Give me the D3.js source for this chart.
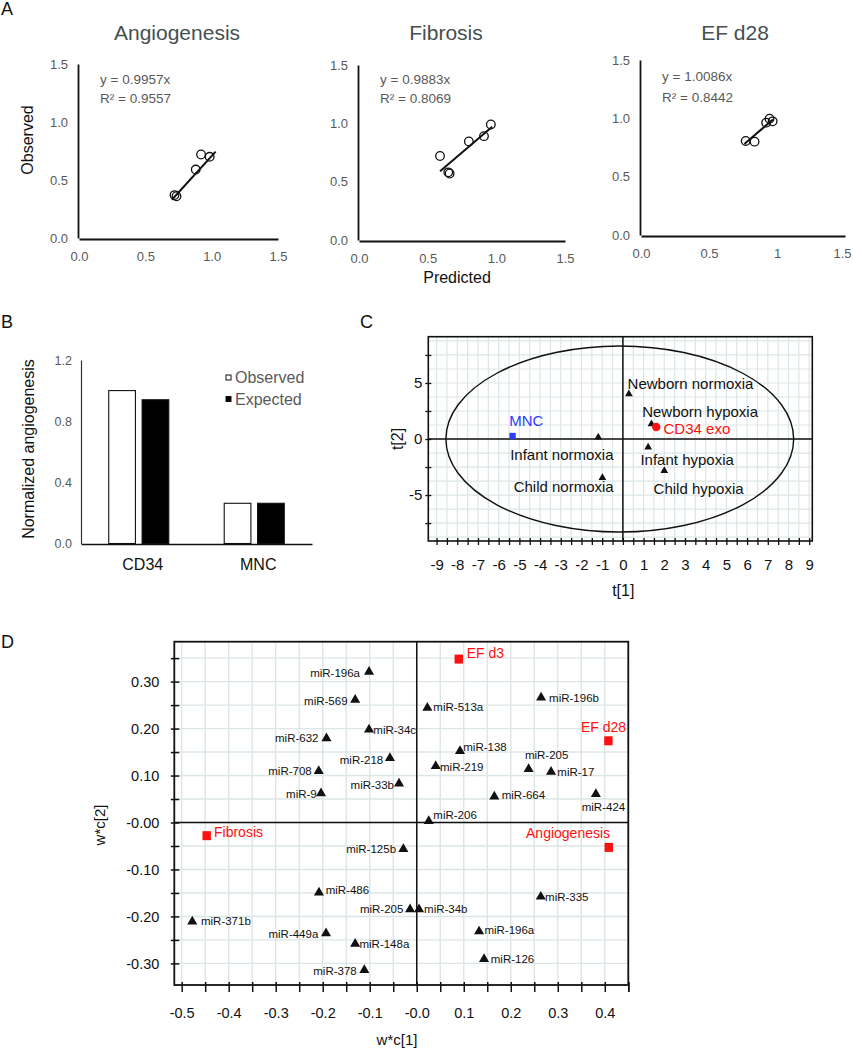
<!DOCTYPE html>
<html><head><meta charset="utf-8">
<script src="https://cdn.jsdelivr.net/npm/d3@7"></script>
<style>
body{margin:0;background:#fff;}
svg{display:block;font-family:"Liberation Sans",Arial,sans-serif;}
</style></head><body>
<svg id="fig" width="853" height="1050"></svg>
<script>
// ================= DATA =================
// Panel A
const aTitles = ["Angiogenesis", "Fibrosis", "EF d28"];
const aEquations = ["y = 0.9957x", "y = 0.9883x", "y = 1.0086x"];
const aR2 = ["R\u00B2 = 0.9557", "R\u00B2 = 0.8069", "R\u00B2 = 0.8442"];
const aTickValues = [0, 0.5, 1.0, 1.5];
const aYTickLabels = ["0.0", "0.5", "1.0", "1.5"];
const aXTickLabels = [["0.0", "0.5", "1.0", "1.5"], ["0.0", "0.5", "1.0", "1.5"], ["0.0", "0.5", "1", "1.5"]];
const angioPredicted = [0.72, 0.735, 0.88, 0.92, 0.985];
const angioObserved  = [0.37, 0.36, 0.59, 0.72, 0.70];
const angioFitX = [0.70, 1.03];
const angioFitY = [0.33, 0.745];
const fibPredicted = [0.59, 0.65, 0.66, 0.80, 0.91, 0.96];
const fibObserved  = [0.72, 0.58, 0.57, 0.845, 0.89, 0.99];
const fibFitX = [0.59, 0.97];
const fibFitY = [0.59, 0.97];
const efPredicted = [0.77, 0.835, 0.92, 0.945, 0.968];
const efObserved  = [0.806, 0.80, 0.963, 0.997, 0.974];
const efFitX = [0.76, 0.97];
const efFitY = [0.78, 0.99];

// Panel B
const bCategories = ["CD34", "MNC"];
const bSeries = ["Observed", "Expected"];
const bObserved = [1.0, 0.263];
const bExpected = [0.94, 0.263];
const bTicks = [0, 0.4, 0.8, 1.2];

// Panel C
const cNames = ["MNC", "Infant normoxia", "Child normoxia", "Newborn normoxia", "Newborn hypoxia", "CD34 exo", "Infant hypoxia", "Child hypoxia"];
const cT1 = [-5.33, -1.19, -0.99, 0.29, 1.38, 1.61, 1.22, 2.0];
const cT2 = [0.27, 0.15, -3.45, 4.02, 1.34, 1.07, -0.74, -2.83];
const cKind = ["mnc", "sample", "sample", "sample", "sample", "exo", "sample", "sample"];
const cXTickLabels = ["-9","-8","-7","-6","-5","-4","-3","-2","-1","0","1","2","3","4","5","6","7","8","9"];
const cYTickLabels = ["-5", "0", "5"];
const cEllipse = {cx: -0.15, cy: 0, rx: 8.4, ry: 8.3};

// Panel D
const dNames = ["miR-196a","miR-569","miR-34c","miR-632","miR-218","miR-708","miR-33b","miR-9",
  "miR-513a","miR-196b","miR-138","miR-219","miR-205","miR-17","miR-664","miR-424","miR-206",
  "miR-125b","miR-486","miR-205","miR-34b","miR-371b","miR-449a","miR-148a","miR-378",
  "miR-335","miR-196a","miR-126"];
const dX = [-0.1015,-0.131,-0.1015,-0.192,-0.057,-0.2085,-0.0377,-0.2036,
  0.0226,0.2645,0.092,0.0404,0.238,0.2857,0.165,0.381,0.0255,
  -0.0285,-0.208,-0.0142,0.0049,-0.4775,-0.193,-0.131,-0.1115,
  0.2638,0.1326,0.1432];
const dY = [0.321,0.261,0.198,0.179,0.137,0.1096,0.083,0.062,
  0.244,0.266,0.152,0.12,0.114,0.108,0.055,0.0606,0.003,
  -0.0564,-0.149,-0.185,-0.185,-0.211,-0.236,-0.2585,-0.314,
  -0.158,-0.232,-0.291];
const dOutcomes = ["EF d3", "EF d28", "Fibrosis", "Angiogenesis"];
const dOutX = [0.0894, 0.4077, -0.4468, 0.4085];
const dOutY = [0.348, 0.174, -0.028, -0.053];
const dXTickLabels = ["-0.5","-0.4","-0.3","-0.2","-0.1","-0.0","0.1","0.2","0.3","0.4"];
const dYTickLabels = ["-0.30","-0.20","-0.10","-0.00","0.10","0.20","0.30"];

// ================= DRAWING =================
const svg = d3.select("#fig");
const GRID = "#dde6e6";
const GRAYTXT = "#595959";

// panel letters
[["A",1,15],["B",1,328],["C",360,328],["D",1,648]].forEach(([t,x,y]) =>
  svg.append("text").attr("x",x).attr("y",y).attr("font-size",18).attr("fill","#111").text(t));

// ---------- Panel A ----------
const aLayout = [
  {x0:79, x1:278, y0:238, y1:64, titleX:177, eqY:[84,103]},
  {x0:359, x1:565, y0:240, y1:65, titleX:446, eqY:[84,103]},
  {x0:641, x1:845, y0:235, y1:60, titleX:735, eqY:[81,101.5]}
];
const aData = [
  {px:angioPredicted, ob:angioObserved, fx:angioFitX, fy:angioFitY},
  {px:fibPredicted, ob:fibObserved, fx:fibFitX, fy:fibFitY},
  {px:efPredicted, ob:efObserved, fx:efFitX, fy:efFitY}
];
aLayout.forEach((L, i) => {
  const x = d3.scaleLinear().domain([0, 1.5]).range([L.x0, L.x1]);
  const y = d3.scaleLinear().domain([0, 1.5]).range([L.y0, L.y1]);
  const g = svg.append("g");
  const xa = g.append("g").attr("transform", `translate(0,${L.y0 + 1})`)
    .call(d3.axisBottom(x).tickValues(aTickValues).tickFormat((d, j) => aXTickLabels[i][j]).tickSize(0).tickSizeOuter(0).tickPadding(13));
  const ya = g.append("g").attr("transform", `translate(${L.x0 - 1},0)`)
    .call(d3.axisLeft(y).tickValues(aTickValues).tickFormat((d, j) => aYTickLabels[j]).tickSize(0).tickSizeOuter(0).tickPadding(10));
  [xa, ya].forEach(a => {
    a.select(".domain").attr("stroke", "#111").attr("stroke-width", 1.8);
    a.selectAll("text").attr("font-size", 13).attr("fill", GRAYTXT).attr("font-family", "Liberation Sans, Arial, sans-serif");
  });
  if (i === 2) xa.selectAll(".tick text").filter((d) => d === 1.5).attr("dx", -3);
  g.append("text").attr("x", L.titleX).attr("y", 40).attr("text-anchor", "middle")
    .attr("font-size", 21).attr("fill", "#455050").text(aTitles[i]);
  g.append("text").attr("x", L.x0 + 21).attr("y", L.eqY[0]).attr("font-size", 13.5).attr("fill", GRAYTXT).text(aEquations[i]);
  g.append("text").attr("x", L.x0 + 21).attr("y", L.eqY[1]).attr("font-size", 13.5).attr("fill", GRAYTXT).text(aR2[i]);
  const D = aData[i];
  g.selectAll("circle.pt").data(D.px).join("circle")
    .attr("cx", d => x(d)).attr("cy", (d, k) => y(D.ob[k])).attr("r", 4.3)
    .attr("fill", "none").attr("stroke", "#111").attr("stroke-width", 1.3);
  g.append("line").attr("x1", x(D.fx[0])).attr("y1", y(D.fy[0])).attr("x2", x(D.fx[1])).attr("y2", y(D.fy[1]))
    .attr("stroke", "#111").attr("stroke-width", 2);
});
svg.append("text").attr("transform", "translate(33,140) rotate(-90)").attr("text-anchor", "middle")
  .attr("font-size", 16).attr("fill", "#111").text("Observed");
svg.append("text").attr("x", 457).attr("y", 283).attr("text-anchor", "middle")
  .attr("font-size", 16).attr("fill", "#111").text("Predicted");

// ---------- Panel B ----------
{
  const bx = d3.scaleBand().domain(bCategories).range([81, 312]).paddingInner(0.48).paddingOuter(0.24);
  const bs = d3.scaleBand().domain(bSeries).range([0, bx.bandwidth()]).paddingInner(0.2);
  const by = d3.scaleLinear().domain([0, 1.2]).range([543.5, 360]);
  const g = svg.append("g");
  const vals = {Observed: bObserved, Expected: bExpected};
  const fills = {Observed: "#fff", Expected: "#000"};
  bCategories.forEach((c, i) => {
    bSeries.forEach(s => {
      g.append("rect").attr("x", bx(c) + bs(s)).attr("y", by(vals[s][i]))
        .attr("width", bs.bandwidth()).attr("height", by(0) - by(vals[s][i]))
        .attr("fill", fills[s]).attr("stroke", "#111").attr("stroke-width", 1.1);
    });
  });
  const ya = g.append("g").attr("transform", "translate(81,0)")
    .call(d3.axisLeft(by).tickValues(bTicks).tickFormat(d3.format(".1f")).tickSize(0).tickSizeOuter(0).tickPadding(9));
  ya.select(".domain").attr("stroke", "#333").attr("stroke-width", 1.2);
  ya.selectAll("text").attr("font-size", 12.5).attr("fill", GRAYTXT);
  const xa = g.append("g").attr("transform", "translate(0,544)")
    .call(d3.axisBottom(bx).tickSize(0).tickSizeOuter(0).tickPadding(15));
  xa.select(".domain").attr("stroke", "#111").attr("stroke-width", 1.5);
  xa.selectAll("text").attr("font-size", 16).attr("fill", "#111").attr("dx", 4);
  bSeries.forEach((s, i) => {
    g.append("rect").attr("x", 226).attr("y", 375 + i * 21.5).attr("width", 5).attr("height", 5)
      .attr("fill", fills[s]).attr("stroke", "#111").attr("stroke-width", 1);
    g.append("text").attr("x", 235).attr("y", 377.7 + i * 21.5).attr("dominant-baseline", "central")
      .attr("font-size", 16).attr("fill", GRAYTXT).text(s);
  });
  svg.append("text").attr("transform", "translate(34,449) rotate(-90)").attr("text-anchor", "middle")
    .attr("font-size", 16).attr("fill", "#111").text("Normalized angiogenesis");
}

// ---------- Panel C ----------
{
  const cx = d3.scaleLinear().domain([-9.4, 9.15]).range([428.3, 812.3]);
  const cy = d3.scaleLinear().domain([-9.1, 9.13]).range([541, 336.7]);
  const g = svg.append("g");
  const [xl, xr] = cx.range(), [yb, yt] = cy.range();
  g.selectAll("line.vg").data(d3.range(-18, 19).map(k => k * 0.5)).join("line")
    .attr("x1", d => cx(d)).attr("x2", d => cx(d)).attr("y1", yt).attr("y2", yb)
    .attr("stroke", GRID).attr("stroke-width", 1.2);
  g.selectAll("line.hg").data(d3.range(-7, 8).map(k => k * 1.25)).join("line")
    .attr("y1", d => cy(d)).attr("y2", d => cy(d)).attr("x1", xl).attr("x2", xr)
    .attr("stroke", GRID).attr("stroke-width", 1.2);
  g.append("rect").attr("x", xl).attr("y", yt).attr("width", xr - xl).attr("height", yb - yt)
    .attr("fill", "none").attr("stroke", "#111").attr("stroke-width", 1.6);
  g.append("line").attr("x1", cx(0)).attr("x2", cx(0)).attr("y1", yt).attr("y2", yb).attr("stroke", "#111").attr("stroke-width", 1.5);
  g.append("line").attr("y1", cy(0)).attr("y2", cy(0)).attr("x1", xl).attr("x2", xr).attr("stroke", "#111").attr("stroke-width", 1.5);
  g.append("ellipse").attr("cx", cx(cEllipse.cx)).attr("cy", cy(cEllipse.cy))
    .attr("rx", cx(cEllipse.cx + cEllipse.rx) - cx(cEllipse.cx)).attr("ry", cy(0) - cy(cEllipse.ry))
    .attr("fill", "none").attr("stroke", "#111").attr("stroke-width", 1.4);
  // axes
  const xTickVals = d3.range(-18, 19).map(k => k * 0.5);
  const xa = g.append("g").attr("transform", `translate(0,${yb - 3})`)
    .call(d3.axisBottom(cx).tickValues(xTickVals)
      .tickFormat(d => Number.isInteger(d) ? cXTickLabels[d + 9] : "").tickSize(7).tickPadding(14));
  xa.select(".domain").remove();
  xa.selectAll("line").attr("stroke", "#111").attr("stroke-width", 1.3);
  xa.selectAll("text").attr("font-size", 15).attr("fill", "#111");
  const yTickVals = [-7.5, -5, -2.5, 0, 2.5, 5, 7.5];
  const ya = g.append("g").attr("transform", `translate(${xl + 3},0)`)
    .call(d3.axisLeft(cy).tickValues(yTickVals)
      .tickFormat(d => (d % 5 === 0) ? cYTickLabels[d / 5 + 1] : "").tickSize(6).tickPadding(3));
  ya.select(".domain").remove();
  ya.selectAll("line").attr("stroke", "#111").attr("stroke-width", 1.3);
  ya.selectAll("text").attr("font-size", 15).attr("fill", "#111");
  g.append("text").attr("x", 623.3).attr("y", 596).attr("text-anchor", "middle").attr("font-size", 16).attr("fill", "#111").text("t[1]");
  g.append("text").attr("transform", "translate(403,439) rotate(-90)").attr("text-anchor", "middle").attr("font-size", 16).attr("fill", "#111").text("t[2]");
  // points
  const cLabelLayout = [
    {a:"start", dx:-3.4, dy:-15.3}, {a:"end", dx:15.3, dy:16.7}, {a:"end", dx:11.3, dy:9},
    {a:"start", dx:-1.3, dy:-10.7}, {a:"start", dx:-9.3, dy:-12.3}, {a:"start", dx:7.3, dy:1.7},
    {a:"start", dx:-7.7, dy:12}, {a:"start", dx:-10.7, dy:17.6}
  ];
  cNames.forEach((n, i) => {
    const px = cx(cT1[i]), py = cy(cT2[i]);
    let col = "#111";
    if (cKind[i] === "mnc") {
      col = "#2a3cff";
      g.append("path").attr("d", d3.symbol(d3.symbolSquare, 40)()).attr("transform", `translate(${px},${py})`).attr("fill", col);
    } else if (cKind[i] === "exo") {
      col = "#ff1010";
      g.append("circle").attr("cx", px).attr("cy", py).attr("r", 4.2).attr("fill", col);
    } else {
      g.append("path").attr("d", d3.symbol(d3.symbolTriangle, 26)()).attr("transform", `translate(${px},${py})`).attr("fill", "#111");
    }
    const L = cLabelLayout[i];
    g.append("text").attr("x", px + L.dx).attr("y", py + L.dy).attr("text-anchor", L.a)
      .attr("dominant-baseline", "central").attr("font-size", 15).attr("fill", col).text(n);
  });
}

// ---------- Panel D ----------
{
  const dx = d3.scaleLinear().domain([-0.5157, 0.450]).range([174.3, 628.3]);
  const dy = d3.scaleLinear().domain([-0.346, 0.385]).range([985, 641.7]);
  const g = svg.append("g");
  const [xl, xr] = dx.range(), [yb, yt] = dy.range();
  const vTicks = d3.range(-10, 10).map(k => +(k * 0.05).toFixed(2));
  const hTicks = d3.range(-6, 8).map(k => +(k * 0.05).toFixed(2));
  g.selectAll("line.vg").data(vTicks).join("line")
    .attr("x1", d => dx(d)).attr("x2", d => dx(d)).attr("y1", yt).attr("y2", yb)
    .attr("stroke", GRID).attr("stroke-width", 1.4);
  g.selectAll("line.hg").data(hTicks).join("line")
    .attr("y1", d => dy(d)).attr("y2", d => dy(d)).attr("x1", xl).attr("x2", xr)
    .attr("stroke", GRID).attr("stroke-width", 1.4);
  g.append("rect").attr("x", xl).attr("y", yt).attr("width", xr - xl).attr("height", yb - yt)
    .attr("fill", "none").attr("stroke", "#111").attr("stroke-width", 1.8);
  g.append("line").attr("x1", dx(0)).attr("x2", dx(0)).attr("y1", yt).attr("y2", yb).attr("stroke", "#111").attr("stroke-width", 1.5);
  g.append("line").attr("y1", dy(0)).attr("y2", dy(0)).attr("x1", xl).attr("x2", xr).attr("stroke", "#111").attr("stroke-width", 1.5);
  const xLabVals = [-0.5,-0.4,-0.3,-0.2,-0.1,0,0.1,0.2,0.3,0.4];
  const yLabVals = [-0.3,-0.2,-0.1,0,0.1,0.2,0.3];
  const xa = g.append("g").attr("transform", `translate(0,${yb - 3})`)
    .call(d3.axisBottom(dx).tickValues(vTicks.concat([0.45]))
      .tickFormat(d => { const j = xLabVals.findIndex(v => Math.abs(v - d) < 1e-6); return j >= 0 ? dXTickLabels[j] : ""; })
      .tickSize(10).tickPadding(16));
  xa.select(".domain").remove();
  xa.selectAll("line").attr("stroke", "#111").attr("stroke-width", 1.5);
  xa.selectAll("text").attr("font-size", 14.5).attr("fill", "#111");
  const ya = g.append("g").attr("transform", `translate(${xl + 5},0)`)
    .call(d3.axisLeft(dy).tickValues(hTicks)
      .tickFormat(d => { const j = yLabVals.findIndex(v => Math.abs(v - d) < 1e-6); return j >= 0 ? dYTickLabels[j] : ""; })
      .tickSize(8.5).tickPadding(11.5));
  ya.select(".domain").remove();
  ya.selectAll("line").attr("stroke", "#111").attr("stroke-width", 1.5);
  ya.selectAll("text").attr("font-size", 14.5).attr("fill", "#111");
  g.append("text").attr("x", 397).attr("y", 1045).attr("text-anchor", "middle").attr("font-size", 15).attr("fill", "#111").text("w*c[1]");
  g.append("text").attr("transform", "translate(105,825) rotate(-90)").attr("text-anchor", "middle").attr("font-size", 15).attr("fill", "#111").text("w*c[2]");

  const dLabelLayout = [
    {a:"end",dx:-9,dy:1},{a:"end",dx:-7.6,dy:1},{a:"start",dx:4.3,dy:0.7},{a:"end",dx:-8,dy:0},
    {a:"end",dx:-6.7,dy:1.7},{a:"end",dx:-7,dy:0},{a:"end",dx:-5,dy:1},{a:"end",dx:-4.3,dy:0.7},
    {a:"start",dx:6,dy:-1},{a:"start",dx:8,dy:0},{a:"start",dx:3.3,dy:-3.7},{a:"start",dx:4.3,dy:0.7},
    {a:"middle",dx:18,dy:-14},{a:"start",dx:6.3,dy:0},{a:"start",dx:7.4,dy:-1.7},{a:"middle",dx:7.6,dy:12.7},
    {a:"start",dx:4.6,dy:-6},
    {a:"end",dx:-7.3,dy:0},{a:"start",dx:6.7,dy:-2},{a:"end",dx:-6.7,dy:0},{a:"start",dx:5,dy:0},
    {a:"start",dx:8.7,dy:-0.7},{a:"end",dx:-7.7,dy:0.7},{a:"start",dx:4.3,dy:0},{a:"end",dx:-7.6,dy:0.7},
    {a:"start",dx:4.3,dy:0},{a:"start",dx:5.3,dy:-1},{a:"start",dx:6.7,dy:0}
  ];
  dNames.forEach((n, i) => {
    const px = dx(dX[i]), py = dy(dY[i]);
    g.append("path").attr("d", d3.symbol(d3.symbolTriangle, 44)()).attr("transform", `translate(${px},${py})`).attr("fill", "#111");
    const L = dLabelLayout[i];
    g.append("text").attr("x", px + L.dx).attr("y", py + L.dy).attr("text-anchor", L.a)
      .attr("dominant-baseline", "central").attr("font-size", 11.5).attr("fill", "#111").text(n);
  });
  const dOutLayout = [
    {a:"start",dx:8,dy:-5.7},{a:"end",dx:17.7,dy:-13.4},{a:"start",dx:7.3,dy:-4},{a:"end",dx:1.3,dy:-14}
  ];
  dOutcomes.forEach((n, i) => {
    const px = dx(dOutX[i]), py = dy(dOutY[i]);
    g.append("rect").attr("x", px - 4.2).attr("y", py - 4.5).attr("width", 8.4).attr("height", 9).attr("fill", "#ff1010");
    const L = dOutLayout[i];
    g.append("text").attr("x", px + L.dx).attr("y", py + L.dy).attr("text-anchor", L.a)
      .attr("dominant-baseline", "central").attr("font-size", 14).attr("fill", "#ff1010").text(n);
  });
}
</script>
</body></html>
